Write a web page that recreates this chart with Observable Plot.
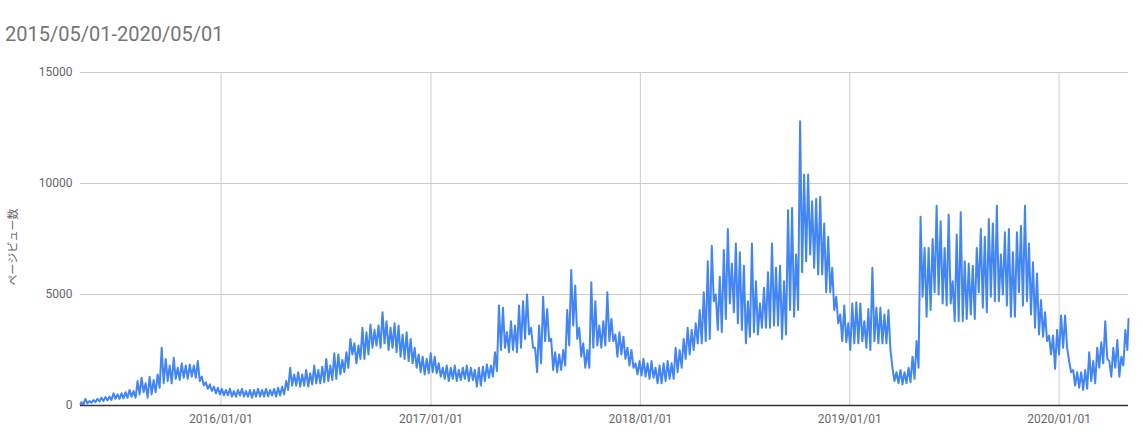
<!DOCTYPE html>
<html>
<head>
<meta charset="utf-8">
<script src="https://cdn.jsdelivr.net/npm/d3@7"></script>
<script src="https://cdn.jsdelivr.net/npm/@observablehq/plot@0.6"></script>
<style>
  html, body { margin: 0; padding: 0; background: #fff; }
  #wrap { position: relative; width: 1143px; height: 440px; font-family: Roboto, "Noto Sans CJK JP", sans-serif; }
  #title { position: absolute; left: 5px; top: 22px; font-size: 20px; color: #757575; line-height: 24px; white-space: nowrap; }
  #ylabel { position: absolute; left: 12px; top: 247px; font-size: 11px; color: #666; white-space: nowrap;
            transform: translate(-50%, -50%) rotate(-90deg); font-family: Roboto, "Noto Sans CJK JP", sans-serif; }
  #chart { position: absolute; left: 0; top: 0; }
</style>
</head>
<body>
<div id="wrap">
  <div id="chart"></div>
  <div id="title">2015/05/01-2020/05/01</div>
  <div id="ylabel">ページビュー数</div>
</div>
<script>
// Chart data (weekly peak and weekly trough page views)
const titleText = "2015/05/01-2020/05/01";
const startDate = "2015-05-01";
const endDate = "2020-05-01";
const startValue = 50;
const endValue = 3900;
const yTicks = [0, 5000, 10000, 15000];
const xTickLabels = ["2016/01/01", "2017/01/01", "2018/01/01", "2019/01/01", "2020/01/01"];

const weekHigh = [
  150,300,200,250,300,350,380,400,550,500,
  550,600,700,650,1100,1250,1000,1300,1150,1400,
  2600,2100,1800,2150,1700,1900,1800,1850,1800,2000,
  1300,1050,950,850,800,750,700,750,650,700,
  750,650,700,700,750,700,750,700,750,800,
  850,1100,1700,1400,1500,1400,1600,1450,1800,1600,
  1750,2100,1800,2350,2300,2050,2400,3000,2800,2700,
  3500,3300,3650,3400,3600,4200,3800,3500,3700,3600,
  3200,3300,3000,2600,2300,2200,2100,2350,2200,1900,
  1700,1800,1700,1800,1600,1700,1800,1700,1600,1700,
  1750,1850,1800,2400,4500,4400,3300,3800,3600,4500,
  4700,5000,3500,2600,3600,4900,4350,3000,2400,2300,
  2500,4300,6100,5400,3500,2800,2500,5550,4700,3600,
  3800,5100,3900,3200,3300,3100,2600,2500,1900,2000,
  2100,1900,2000,1700,1800,1900,2000,1900,2600,2500,
  3000,3500,3400,3700,4300,5100,6500,7200,5000,5800,
  7000,7950,6400,7300,6900,6300,4700,7300,5600,4600,
  5300,6000,7300,6200,6300,5600,8800,8900,6800,12800,
  10400,10400,9200,9300,9400,8200,7600,6200,4900,4100,
  4500,3700,4600,4650,4600,3800,4350,6200,4400,4400,
  4100,4300,1700,1500,1600,1500,1700,2200,2900,8500,
  7100,7100,7500,9000,8300,7100,8600,5600,7700,8700,
  6500,6400,6300,7100,7950,7600,8400,8200,9000,6800,
  7800,7950,6900,7800,8100,9000,7300,6450,5950,4750,
  4200,3150,3150,3400,4050,4050,2000,1600,1500,1500,
  1600,2400,2000,2600,2850,3800,2000,2600,2950,2200,
  3400
];
const weekLow = [
  50,100,120,150,180,200,230,250,300,300,
  320,350,400,350,500,600,350,500,600,800,
  1000,1100,1000,1200,1150,1250,1200,1300,1250,1100,
  900,750,650,550,500,450,450,400,400,450,
  400,400,350,400,400,400,400,450,400,450,
  500,700,900,900,850,900,850,950,1000,1000,
  1050,1100,1150,1200,1400,1500,1700,2300,1900,2100,
  2100,2300,2600,2700,2600,2800,2500,2600,2400,2200,
  2100,2000,1900,1700,1500,1400,1450,1500,1450,1300,
  1200,1100,1200,1100,1150,1200,1100,1150,850,900,
  1100,1250,1300,1550,2500,2600,2400,2500,2400,2600,
  3000,3200,2600,1500,1900,2900,2900,1600,1500,1600,
  1800,2700,3600,3000,2200,1700,1700,2600,2700,2600,
  2700,2900,2900,2200,2300,2100,1800,1700,1400,1350,
  1300,1200,1250,1000,1000,1100,1200,1200,1500,1700,
  2100,2300,2500,2800,2800,2900,3000,4700,3400,3300,
  3900,4600,4200,3700,3400,2800,3100,3300,3200,3500,
  3500,3500,3600,3600,3000,3200,4300,4000,4300,6000,
  6500,6800,6200,5900,5900,5100,5100,4300,3700,2900,
  2850,2500,2800,2800,2900,2600,2500,2900,2800,2800,
  2800,2500,1100,1000,950,1000,1050,1200,1700,4900,
  4000,4300,5100,5000,4600,4500,4600,3800,3800,3800,
  3900,4100,3900,5100,4400,4200,4900,4700,4700,5000,
  4500,4000,4000,5100,4500,4700,4100,3500,3200,3100,
  2900,2300,1650,2300,2600,2600,1500,900,800,700,
  750,1100,1000,1700,1900,2100,1300,1700,1300,1800,
  2500
];

const parse = d3.utcParse("%Y-%m-%d");
const t0 = parse(startDate);
const t1 = parse(endDate);
const dayMs = 864e5;
const at = (days) => new Date(+t0 + days * dayMs);

const series = [{date: t0, value: startValue}];
weekHigh.forEach((h, i) => {
  series.push({date: at(7 * i + 1.5), value: h});
  series.push({date: at(7 * i + 5), value: weekLow[i]});
});
series.push({date: t1, value: endValue});

const xTicks = xTickLabels.map(s => d3.utcParse("%Y/%m/%d")(s));

const chart = Plot.plot({
  width: 1143,
  height: 440,
  marginTop: 72,
  marginBottom: 35,
  marginLeft: 80,
  marginRight: 15,
  style: {fontFamily: "Roboto, 'Noto Sans CJK JP', sans-serif", fontSize: "12px", color: "#666", background: "transparent"},
  x: {type: "utc", domain: [t0, t1]},
  y: {domain: [0, 15000]},
  marks: [
    Plot.gridY(yTicks, {stroke: "#cccccc", strokeOpacity: 1}),
    Plot.gridX(xTicks, {stroke: "#cccccc", strokeOpacity: 1}),
    Plot.axisY(yTicks, {tickSize: 0, tickPadding: 8, tickFormat: d3.format("d"), label: null, fill: "#666"}),
    Plot.axisX(xTicks, {tickSize: 0, tickPadding: 9, tickFormat: d3.utcFormat("%Y/%m/%d"), label: null, fill: "#666"}),
    Plot.line(series, {x: "date", y: "value", stroke: "#4285f4", strokeWidth: 2, curve: "linear"}),
    Plot.ruleY([0], {stroke: "#333", strokeWidth: 1.5})
  ]
});
document.getElementById("chart").appendChild(chart);
</script>
</body>
</html>
